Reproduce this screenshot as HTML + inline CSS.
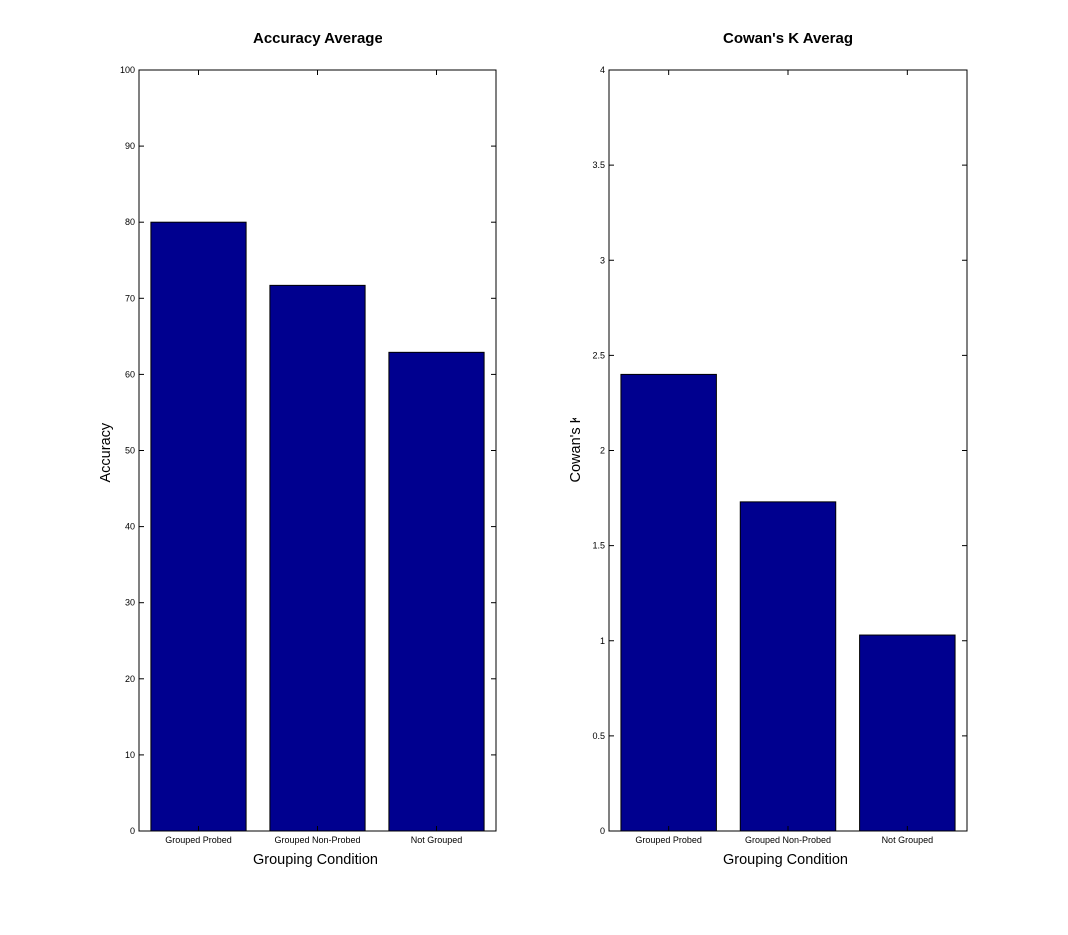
<!DOCTYPE html>
<html><head><meta charset="utf-8"><style>
body{margin:0;background:#fff;width:1068px;height:935px;overflow:hidden}
svg{display:block;font-family:"Liberation Sans",sans-serif}
</style></head><body>
<svg id="c" width="1068" height="935"></svg>
<script>
const categories=["Grouped Probed","Grouped Non-Probed","Not Grouped"];
const accValues=[80,71.7,62.9];
const kValues=[2.4,1.73,1.03];
const accTicks=[0,10,20,30,40,50,60,70,80,90,100];
const kTicks=[0,0.5,1,1.5,2,2.5,3,3.5,4];
const svg=document.getElementById('c');
const NS='http://www.w3.org/2000/svg';
const defs=document.createElementNS(NS,'defs');svg.appendChild(defs);
function mk(tag,a,txt,parent){const e=document.createElementNS(NS,tag);for(const k in a)e.setAttribute(k,a[k]);if(txt!==undefined)e.textContent=txt;(parent||svg).appendChild(e);return e;}
function clipG(id,x,y,w,h){const c=mk('clipPath',{id:id},undefined,defs);mk('rect',{x:x,y:y,width:w,height:h},undefined,c);return mk('g',{'clip-path':'url(#'+id+')'});}
function panel(p,x0,x1,y0,y1,vals,ticks,ymax,title,ylabel){
  const Y=v=>y1-(v/ymax)*(y1-y0);
  const bw=(x1-x0)/3, X=i=>x0+bw*(i+0.5);
  let e=mk('rect',{x:x0,y:y0,width:x1-x0,height:y1-y0,fill:'#fff',stroke:'#000','stroke-width':1});
  
  vals.forEach((v,i)=>{
    const w=bw*0.8;
    e=mk('rect',{x:X(i)-w/2,y:Y(v),width:w,height:Y(0)-Y(v),fill:'#00008f',stroke:'#000','stroke-width':1});
    
    e=mk('text',{x:X(i),y:y1+12,'font-size':9,'text-anchor':'middle'},categories[i]);
    
    mk('line',{x1:X(i),x2:X(i),y1:y0,y2:y0+5,stroke:'#000'});
    mk('line',{x1:X(i),x2:X(i),y1:y1,y2:y1-5,stroke:'#000'});
  });
  ticks.forEach(t=>{
    const y=Y(t);
    mk('line',{x1:x0,x2:x0+5,y1:y,y2:y,stroke:'#000'});
    mk('line',{x1:x1,x2:x1-5,y1:y,y2:y,stroke:'#000'});
    e=mk('text',{x:x0-4,y:y+3,'font-size':9,'text-anchor':'end'},String(t));
    
  });
  const tx=x0+114;
  let g=clipG(p+'-tc',0,20,tx+129,40);
  e=mk('text',{x:tx,y:43,'font-size':15,'font-weight':'bold'},title,g);
  
  g=clipG(p+'-xc',0,840,tx+127,40);
  e=mk('text',{x:tx,y:864,'font-size':14.5},'Grouping Condition',g);
  
  const cy=(y0+y1)/2+32, lx=x0-29;
  g=clipG(p+'-yc',lx-20,418,30,80);
  e=mk('text',{x:lx,y:cy,'font-size':14.5,transform:`rotate(-90 ${lx} ${cy})`},ylabel,g);
  
}
panel('accuracy',139,496,70,831,accValues,accTicks,100,'Accuracy Average','Accuracy');
panel('cowans-k',609,967,70,831,kValues,kTicks,4,"Cowan's K Average","Cowan's K");
</script>
</body></html>
